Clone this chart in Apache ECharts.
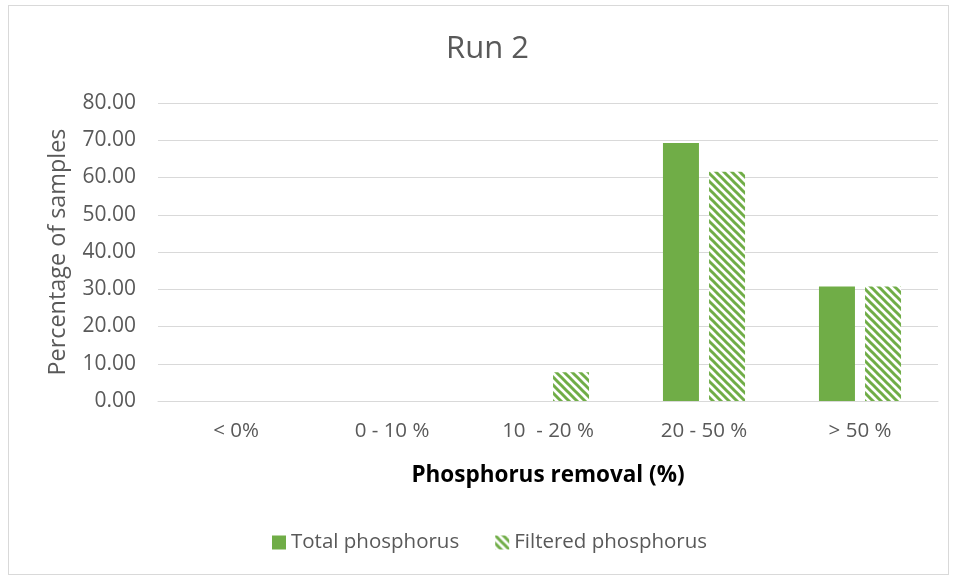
<!DOCTYPE html>
<html><head><meta charset="utf-8">
<script src="https://cdn.jsdelivr.net/npm/echarts@6/dist/echarts.min.js"></script>
<style>html,body{margin:0;padding:0;background:#fff}#wrap{position:absolute;left:8px;top:5px;width:941px;height:570px;border:1px solid #d9d9d9;box-sizing:border-box}#c{position:absolute;left:0;top:0;width:958px;height:578px}</style>
</head><body><div id="wrap"></div><div id="c"></div>
<script>
var categories = ['< 0%', '0 - 10 %', '10  - 20 %', '20 - 50 %', '> 50 %'];
var totalP = [0, 0, 0, 69.23, 30.77];
var filteredP = [0, 0, 7.69, 61.54, 30.77];
var seriesNames = ['Total phosphorus', 'Filtered phosphorus'];
var green = '#70AD47';

var cv = document.createElement('canvas');
cv.width = 8; cv.height = 8;
var g = cv.getContext('2d');
g.fillStyle = '#fff'; g.fillRect(0,0,8,8);
g.strokeStyle = green; g.lineWidth = 3;
for (var k = -2; k <= 2; k++) {
  g.beginPath(); g.moveTo(k*8 - 2, -2); g.lineTo(k*8 + 10, 10); g.stroke();
}
var pattern = {image: cv, repeat: 'repeat'};

var chart = echarts.init(document.getElementById('c'));
var font = '"Open Sans", sans-serif';
chart.setOption({
  textStyle: {fontFamily: font},
  title: {text: 'Run 2', left: 441, top: 29,
    textStyle: {fontFamily: font, fontSize: 31, fontWeight: 'normal', color: '#595959'}},
  grid: {left: 158, right: 20, top: 103, bottom: 177},
  legend: {bottom: 20, left: 267, icon: 'rect', itemWidth: 14, itemHeight: 14, itemGap: 36,
    textStyle: {fontFamily: font, fontSize: 20.5, color: '#595959'}, data: seriesNames},
  xAxis: {type: 'category', data: categories,
    axisLine: {lineStyle: {color: '#d9d9d9'}}, axisTick: {show: false},
    axisLabel: {color: '#595959', fontSize: 20.5, margin: 20, fontFamily: font},
    name: 'Phosphorus removal (%)', nameLocation: 'middle', nameGap: 63,
    nameTextStyle: {color: '#000', fontSize: 22.5, fontWeight: 'bold', fontFamily: font}},
  yAxis: {type: 'value', min: 0, max: 80, interval: 10,
    axisLabel: {color: '#595959', fontSize: 21, margin: 22, formatter: function(v){return v.toFixed(2);}, fontFamily: font},
    splitLine: {lineStyle: {color: '#d9d9d9'}},
    name: 'Percentage of samples', nameLocation: 'middle', nameGap: 88,
    nameTextStyle: {color: '#595959', fontSize: 23.4, fontFamily: font}},
  series: [
    {name: seriesNames[0], type: 'bar', data: totalP, barWidth: 36, barGap: '28%', itemStyle: {color: green}},
    {name: seriesNames[1], type: 'bar', data: filteredP, barWidth: 36, itemStyle: {color: pattern}}
  ]
});
</script></body></html>
